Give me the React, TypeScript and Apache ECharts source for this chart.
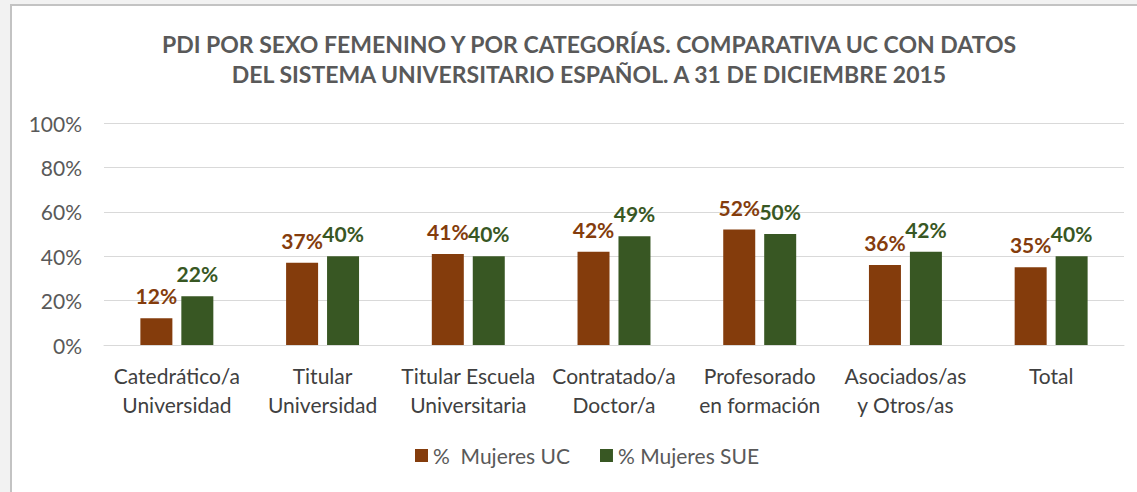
import React, { useEffect, useRef } from "react";
import * as echarts from "echarts";

const categories = [
  "Catedrático/a\nUniversidad",
  "Titular\nUniversidad",
  "Titular Escuela\nUniversitaria",
  "Contratado/a\nDoctor/a",
  "Profesorado\nen formación",
  "Asociados/as\ny Otros/as",
  "Total",
];
const mujeresUC = [12, 37, 41, 42, 52, 36, 35];
const mujeresSUE = [22, 40, 40, 49, 50, 42, 40];
const seriesNames = ["%  Mujeres UC", "% Mujeres SUE"];
const titleText =
  "PDI POR SEXO FEMENINO Y POR CATEGORÍAS. COMPARATIVA UC CON DATOS\nDEL SISTEMA UNIVERSITARIO ESPAÑOL. A 31 DE DICIEMBRE 2015";

const FONT = "Lato";
const BROWN = "#843C0C";
const GREEN = "#385723";

export default function App() {
  const ref = useRef<HTMLDivElement>(null);
  useEffect(() => {
    if (!ref.current) return;
    const chart = echarts.init(ref.current, null, { renderer: "svg" });
    const label = (color: string) => ({
      show: true,
      position: "top" as const,
      distance: 12,
      formatter: "{c}%",
      color,
      fontFamily: FONT,
      fontWeight: "bold" as const,
      fontSize: 21,
    });
    chart.setOption({
      animation: false,
      backgroundColor: "#f2f2f2",
      graphic: [
        {
          type: "rect",
          z: -10,
          silent: true,
          shape: { x: 11, y: 5, width: 1140, height: 500 },
          style: { fill: "#ffffff", stroke: "#c3c3c3", lineWidth: 2 },
        },
      ],
      title: {
        text: titleText,
        left: 584,
        textAlign: "center",
        top: 24,
        textStyle: {
          fontFamily: FONT,
          fontWeight: "bold",
          fontSize: 23,
          color: "#595959",
          lineHeight: 30,
        },
      },
      legend: {
        bottom: 21,
        left: 410,
        itemWidth: 13,
        itemHeight: 13,
        itemGap: 30,
        icon: "rect",
        textStyle: { fontFamily: FONT, fontSize: 21, color: "#595959" },
        data: seriesNames,
      },
      grid: { left: 104, right: 13, top: 123, bottom: 147, containLabel: false },
      xAxis: {
        type: "category",
        data: categories,
        axisLine: { lineStyle: { color: "#d9d9d9", width: 1 } },
        axisTick: { show: false },
        axisLabel: {
          fontFamily: FONT,
          fontSize: 21,
          color: "#404040",
          lineHeight: 29,
          margin: 16,
          interval: 0,
        },
      },
      yAxis: {
        type: "value",
        min: 0,
        max: 100,
        interval: 20,
        axisLine: { show: false },
        axisTick: { show: false },
        splitLine: { lineStyle: { color: "#d9d9d9", width: 1 } },
        axisLabel: {
          formatter: "{value}%",
          fontFamily: FONT,
          fontSize: 21,
          color: "#595959",
          margin: 22,
        },
      },
      series: [
        {
          name: seriesNames[0],
          type: "bar",
          data: mujeresUC,
          barWidth: 32,
          barGap: "28%",
          itemStyle: { color: BROWN },
          label: label(BROWN),
        },
        {
          name: seriesNames[1],
          type: "bar",
          data: mujeresSUE,
          barWidth: 32,
          barGap: "28%",
          itemStyle: { color: GREEN },
          label: label(GREEN),
        },
      ],
    });
    return () => chart.dispose();
  }, []);
  return (
    <div
      ref={ref}
      style={{ position: "fixed", left: 0, top: 0, width: 1137, height: 492 }}
    />
  );
}
